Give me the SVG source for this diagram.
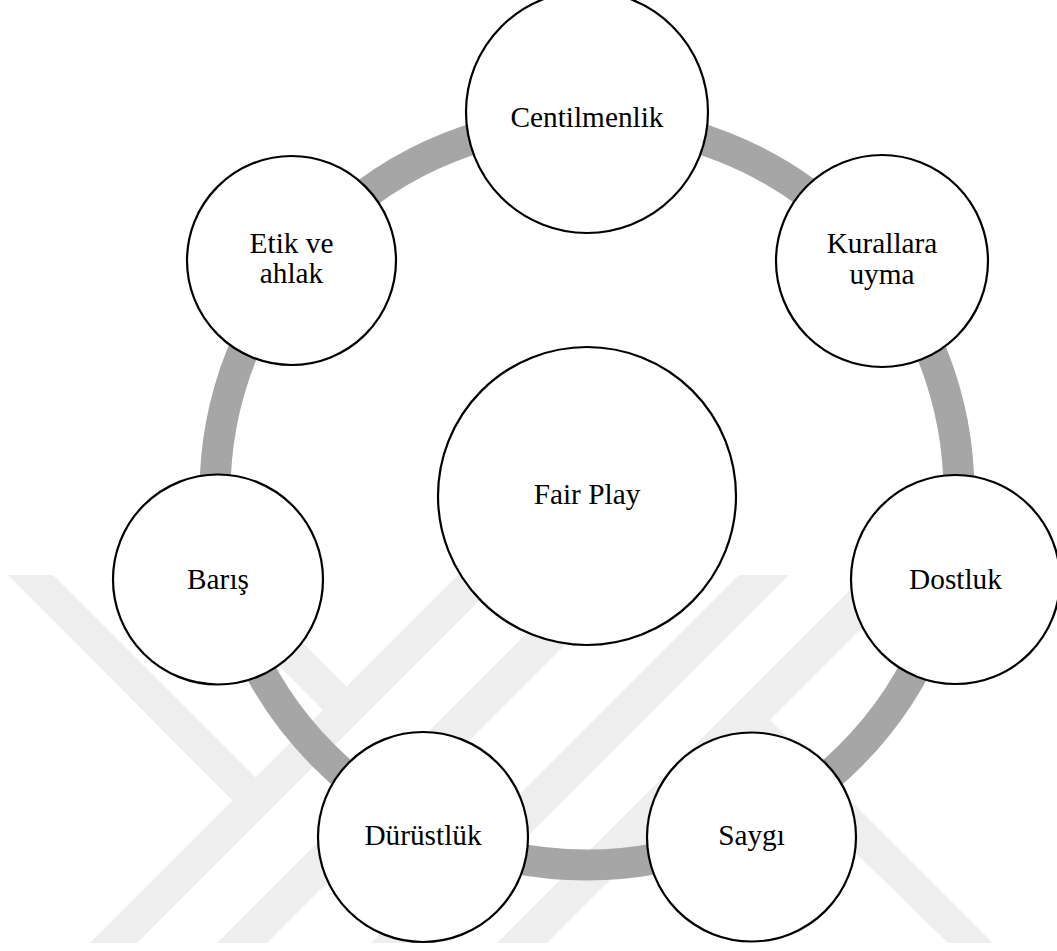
<svg xmlns="http://www.w3.org/2000/svg" width="1057" height="951" viewBox="0 0 1057 951">
<style>
.node{fill:#ffffff;stroke:#000000;stroke-width:2.2}
.lbl{font-family:"Liberation Serif","Times New Roman",serif;font-size:29.3px;fill:#000000;text-anchor:middle}
.ring{fill:none;stroke:#a6a6a6;stroke-width:31}
.wm{fill:#eeeeee}
</style>
<rect x="0" y="0" width="1057" height="951" fill="#ffffff"/>
<g id="watermark">
<polygon class="wm" points="8,575 53,575 260,782 237,805"/>
<polygon class="wm" points="458,575 505,575 137,943 90,943"/>
<polygon class="wm" points="188,575 235,575 350,690 325,712"/>
<polygon class="wm" points="585,575 635,575 267,943 217,943"/>
<polygon class="wm" points="739,575 789,575 421,943 371,943"/>
<polygon class="wm" points="865,575 915,575 547,943 497,943"/>
<polygon class="wm" points="745,745 770,720 993,943 948,943"/>
</g>
<g id="connectors">
<circle class="ring" cx="587" cy="493" r="372"/>
</g>
<g id="node-fairplay">
<circle class="node" cx="587" cy="496" r="149"/>
<text class="lbl" x="587" y="504">Fair Play</text>
</g>
<g id="node-centilmenlik">
<circle class="node" cx="587" cy="112" r="121"/>
<text class="lbl" x="587" y="127">Centilmenlik</text>
</g>
<g id="node-kurallara">
<circle class="node" cx="882" cy="261" r="106"/>
<text class="lbl" x="882" y="253">Kurallara</text>
<text class="lbl" x="882" y="284">uyma</text>
</g>
<g id="node-dostluk">
<circle class="node" cx="955.5" cy="579.5" r="104.5"/>
<text class="lbl" x="955.5" y="589">Dostluk</text>
</g>
<g id="node-saygi">
<circle class="node" cx="751.5" cy="837" r="104.5"/>
<text class="lbl" x="751.5" y="845">Saygı</text>
</g>
<g id="node-durustluk">
<circle class="node" cx="423" cy="837" r="105"/>
<text class="lbl" x="423" y="845">Dürüstlük</text>
</g>
<g id="node-baris">
<circle class="node" cx="218" cy="579.5" r="105"/>
<text class="lbl" x="218" y="589">Barış</text>
</g>
<g id="node-etik">
<circle class="node" cx="291.5" cy="260.5" r="104.5"/>
<text class="lbl" x="291.5" y="253">Etik ve</text>
<text class="lbl" x="291.5" y="283">ahlak</text>
</g>
</svg>
